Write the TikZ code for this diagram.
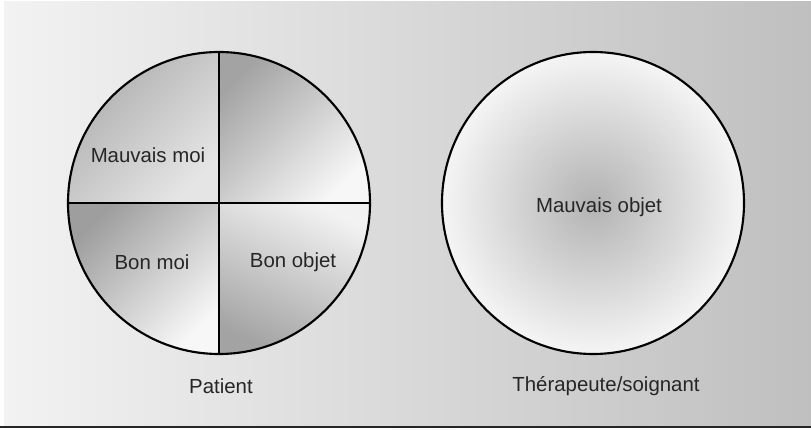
\documentclass[tikz,border=0pt]{standalone}
\usepackage{fontspec}
\setmainfont{Liberation Sans}
\usepackage{tikz}
\usetikzlibrary{positioning}
\tikzset{
    disc/.style={circle, draw=black, line width=1.6pt, minimum size=226.5pt, inner sep=0pt},
    divider/.style={draw=black, line width=1.6pt},
    txt/.style={font=\fontsize{15.3}{18}\selectfont, text=black!85, inner sep=0pt}
}

\begin{document}
\begin{tikzpicture}[x=0.75pt, y=0.75pt]
            % canvas and grey background
            \useasboundingbox (0,0) rectangle (811,429);
            \fill[white] (0,0) rectangle (811,429);
            \shade[left color=black!5, right color=black!25] (4,3) rectangle (811,427);
            \draw[black!85, line width=1.5pt] (0,2) -- (811,2);

            % patient: four shaded quarters
            \begin{scope}
                \clip (219,226) circle (151);
                \shade[top color=black!32, bottom color=black!10, shading angle=45] (68,226) rectangle (219,377);
                \shade[top color=black!36, bottom color=black!3, shading angle=45] (219,226) rectangle (370,377);
                \shade[top color=black!38, bottom color=black!3, shading angle=45] (68,75) rectangle (219,226);
                \shade[top color=black!5, bottom color=black!36, shading angle=-25] (219,75) rectangle (370,226);
            \end{scope}
            \node[disc] (patient) at (219,226) {};
            \draw[divider] (patient.north) -- (patient.south);
            \draw[divider] (patient.west) -- (patient.east);

            % therapist: radial shading
            \shade[inner color=black!30, outer color=black!4] (593,226) circle (151);
            \node[disc] (soignant) at (593,226) {};

            % texts
            \node[txt] (mauvaismoi) at (148,274) {Mauvais moi};
            \node[txt] (bonmoi) at (152,167) {Bon moi};
            \node[txt] (bonobjet) at (293,167) {Bon objet};
            \node[txt] (mauvaisobjet) at (599,222) {Mauvais objet};
            \node[txt] (lpatient) at (221,43) {Patient};
            \node[txt] (lsoignant) at (606,43) {Thérapeute/soignant};
        \end{tikzpicture}
\end{document}
